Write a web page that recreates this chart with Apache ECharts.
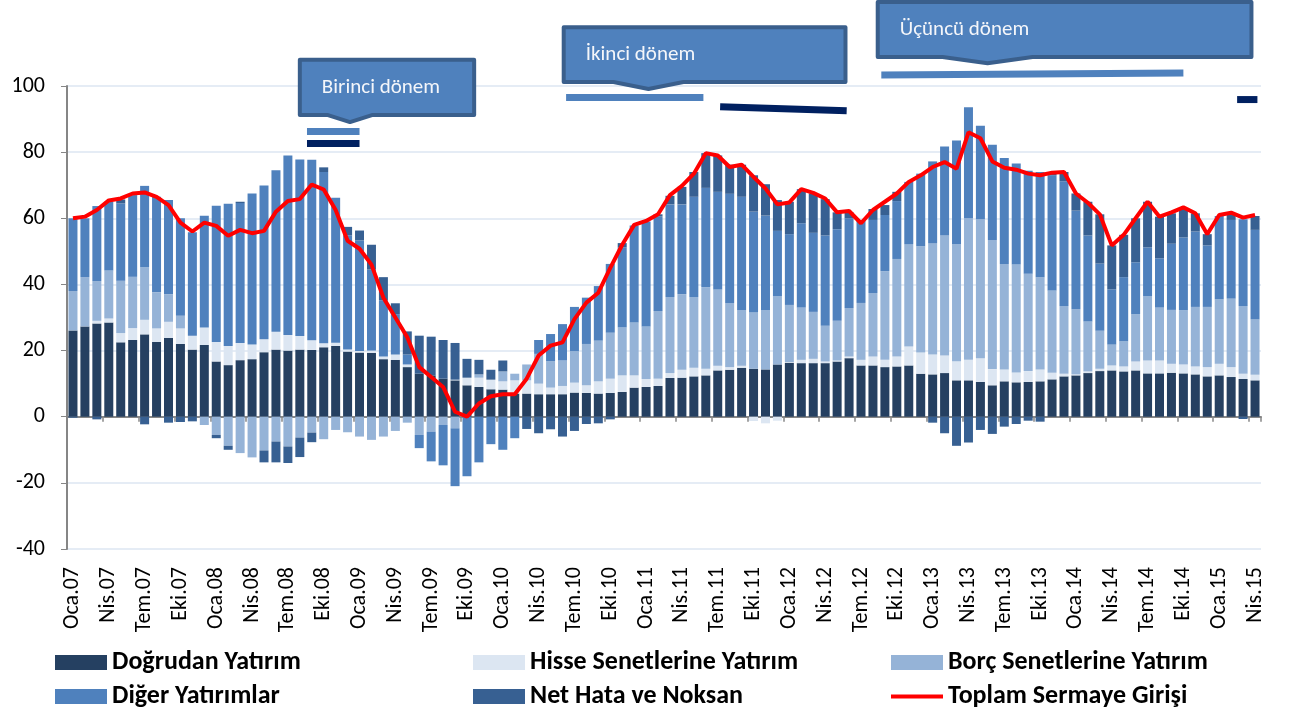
<!DOCTYPE html>
<html><head><meta charset="utf-8">
<script src="https://cdn.jsdelivr.net/npm/echarts@6/dist/echarts.min.js"></script>
<style>html,body{margin:0;padding:0;background:#fff}#c{width:1290px;height:718px}</style>
</head><body><div id="c"></div>
<script>
const months = ['Oca','Şub','Mar','Nis','May','Haz','Tem','Ağu','Eyl','Eki','Kas','Ara'];
const years = ['07','08','09','10','11','12','13','14','15'];
const categories = [];
for (const y of years) for (const m of months) if (categories.length < 100) categories.push(m + '.' + y);

const seriesNames = ['Doğrudan Yatırım','Hisse Senetlerine Yatırım','Borç Senetlerine Yatırım','Diğer Yatırımlar','Net Hata ve Noksan','Toplam Sermaye Girişi'];

const dogrudan = [26.1,27.3,28.2,28.5,22.5,23.2,24.9,22.6,23.8,22.0, 20.3,21.7,16.7,15.6,17.1,17.4,19.5,20.3,20.0,20.3, 20.2,21.0,21.4,19.7,19.4,19.3,17.4,17.2,15.0,13.0, 12.5,11.5,11.0,9.5,9.0,8.3,8.2,7.0,7.0,6.8, 6.8,6.8,7.3,7.2,7.0,7.2,7.5,8.8,9.0,9.3, 11.7,11.8,12.2,12.5,14.0,14.2,14.8,14.5,14.3,15.8, 16.3,16.2,16.2,16.2,16.7,17.7,15.5,15.5,15.0,15.2, 15.5,13.0,12.8,13.2,11.0,11.0,10.5,9.5,10.7,10.4, 10.5,10.7,11.3,12.2,12.5,13.2,13.8,14.0,13.7,14.0, 13.1,13.1,13.3,13.1,12.8,12.2,12.5,12.0,11.4,11.0];
const hisse = [0,0,0.8,1.2,2.8,3.6,4.4,4.1,4.9,4.7, 4.2,5.3,5.9,5.8,5.2,4.4,3.9,5.4,4.7,4.1, 2.9,1.2,1.0,0.6,0.5,0.7,0.8,1.6,0.8,0, 0,0,0.2,2.3,2.8,2.9,2.5,4.0,4.0,3.2, 2.0,2.5,3.0,2.3,3.7,4.3,5.0,3.7,2.4,2.2, 1.5,2.4,2.6,2.0,1.4,0.8,0.6,-1.3,-2.0,-1.2, 0.2,1.0,1.3,0.5,0.3,0.5,1.7,2.7,2.2,3.0, 5.7,6.4,6.0,5.3,5.8,6.2,7.2,4.9,3.6,3.0, 3.3,3.6,2.0,0.8,0.3,0.5,0.7,1.5,1.5,2.7, 3.9,3.9,2.7,2.7,2.4,2.8,3.5,3.0,1.6,1.7];
const borc = [11.9,14.9,12,14.5,15.8,15.5,15.9,10.9,8.3,3.8, 0,-2.5,-5.5,-8.8,-11,-12.3,-10.2,-7.5,-9,-6.3, -4.8,-6.8,-4,-4.7,-6,-7,-6,-4.3,-1.8,-5.5, -4.5,-2.5,-3.5,0,1.0,0,3.0,2.0,4.8,9.0, 8.0,7.7,9.5,12.5,12.3,13.9,14.5,16.0,15.9,20.5, 23.0,22.8,21.4,24.7,23.1,19.4,16.9,17.0,17.9,20.7, 17.3,15.8,14.2,10.8,12.0,14.7,17.2,19.2,26.8,29.5, 31.0,32.1,33.7,36.3,35.4,42.8,42.0,39.0,31.9,32.6, 29.4,27.9,24.9,20.5,19.7,15.1,11.5,6.3,7.6,14.3, 19.5,16.0,16.3,16.4,18.0,18.2,19.5,20.7,20.5,16.8];
const diger = [22,17.8,22.7,20.8,23.4,24.7,24.6,28.9,28.5,29.5, 31.3,33.8,41.2,43,42.3,45.7,46.5,48.8,54.3,53.4, 54.6,51.8,43.8,34.5,33.4,24.5,17.0,12.2,3.0,-4, -9,-12.2,-17.5,-18,-13.8,-8.3,-10,-6.5,0,4.2, 8.2,11,13.4,14,16.5,20.8,24.2,29.3,31.7,28.5, 28,27.2,30.3,30,29.5,33,34.2,30.5,28.6,19.7, 21.4,25.5,23.9,27.3,27.7,27.1,25.1,22.1,17,17.5, 18.8,22,24.7,26.9,31.3,33.6,28.3,28.8,32,30.6, 31.2,31.8,34.8,37.7,29.8,26,20.3,16.7,19.4,15.7, 14.7,14.9,20,22,22.8,18.6,25.2,23.8,26.2,27];
const netHata = [-0.3,0,-0.8,0,1.2,0.3,-2.3,0,-1.8,-1.6, -1.4,0,-1.0,-1.2,0.4,0,-3.6,-6.3,-5,-5.9, -2.9,1.4,0,2.6,3,7.5,7,3.3,7,11.5, 11.7,11.7,11.1,5.7,4.4,3.0,3.3,0,-3.7,-5, -3.8,-6,-4.3,-2.2,-2,-0.8,1.3,0,0,0.7, 2.6,5.3,7.5,10.5,11,8.8,9.7,11,9.5,9.3, 9.8,10.3,11.9,11,5.1,1.8,0,3.3,3,2.8, 0,0,-1.8,-5,-8.8,-7.8,-4,-5.2,-3,-2.2, -1.2,-1.5,0.8,2.8,5.2,10.2,14.9,13.3,12.8,13.3, 13.8,12.6,9.2,8.8,5.5,3.4,0,2,-0.7,4.2];
const toplam = [60.0,60.5,62.5,65.4,66,67.5,67.8,66.5,64,58.7, 56,58.7,57.7,54.7,56.5,55.5,56.2,62,65.2,65.8, 70.2,68.7,62.5,53.2,50.8,46,36,30,24,15, 12,9,1.5,0,4,6.2,6.8,6.8,11.5,18.5, 21.5,22.5,29.5,34.5,37.5,45,52,58,59.2,61.2, 67,69.8,73.5,79.7,79,75.5,76.2,72.5,69,64.2, 64.8,68.8,67.7,66,61.8,62.2,58.5,62.5,65,67.5, 71,73,75.5,77,75,86,84.2,77.2,75.3,74.7, 73.5,73,73.8,74,67.5,64.7,61.2,51.8,55,60, 65,60.5,61.8,63.3,61.5,55.2,61,61.7,60.2,61];

// period annotations in data space (category index, value)
const periodLabels = ['Birinci dönem','İkinci dönem','Üçüncü dönem'];
const periodBoxes = [
  {x0:19.0, x1:33.6, yTop:107.9, yBot:91.2, tipX:23.2, tipY:89.1},
  {x0:41.1, x1:64.7, yTop:117.8, yBot:101.2, tipX:48.2, tipY:99.1},
  {x0:67.4, x1:98.7, yTop:125.4, yBot:108.8, tipX:76.6, tipY:106.9}
];
const periodBars = [
  {x0:19.6, x1:24.0, y0:86.25, y1:86.25, kind:'light'},
  {x0:19.6, x1:24.0, y0:82.6, y1:82.6, kind:'dark'},
  {x0:41.3, x1:52.8, y0:96.5, y1:96.5, kind:'light'},
  {x0:54.2, x1:64.8, y0:93.7, y1:92.5, kind:'dark'},
  {x0:67.7, x1:93.0, y0:103.3, y1:103.9, kind:'light'},
  {x0:97.5, x1:99.2, y0:95.9, y1:95.9, kind:'dark'}
];

const FONT = 'Carlito, Lato, sans-serif';
const colors = ['#254061','#dce6f2','#95b3d7','#4f81bd','#376092','#ff0000'];

const chart = echarts.init(document.getElementById('c'), null, {renderer:'canvas'});

const barData = [dogrudan, hisse, borc, diger, netHata];
const series = barData.map((d, i) => ({
  name: seriesNames[i], type:'bar', stack:'total', data:d, barWidth:9,
  xAxisIndex:0, yAxisIndex:0,
  itemStyle:{color:colors[i]}
}));
series.push({
  name: seriesNames[5], type:'line', data:toplam, symbol:'none', z:10,
  xAxisIndex:0, yAxisIndex:0,
  lineStyle:{color:colors[5], width:4}, itemStyle:{color:colors[5]}
});

const legendPos = [[55,649.5],[473,649.5],[891,649.5],[55,683.5],[473,683.5],[891,683.5]];
const legends = seriesNames.map((n, i) => ({
  data:[n], left:legendPos[i][0], top:legendPos[i][1],
  padding:0, icon:'rect', itemWidth:52, itemHeight: i===5 ? 4 : 15,
  selectedMode:false,
  textStyle:{fontSize:26, lineHeight:26, fontWeight:'bold', color:'#000', fontFamily:FONT}
}));

const option = {
  animation:false,
  backgroundColor:'#fff',
  textStyle:{fontFamily:FONT},
  grid:{left:67, top:86, width:1194, height:463, containLabel:false},
  legend: legends,
  xAxis:[
    {type:'category', data:categories, boundaryGap:true, position:'bottom',
     axisLine:{onZero:true, lineStyle:{color:'#868686', width:2}},
     axisTick:{show:true, interval:2, length:5, lineStyle:{color:'#868686', width:1.5}},
     axisLabel:{show:false}, splitLine:{show:false}},
    {type:'category', data:categories, boundaryGap:true, position:'bottom',
     axisLine:{show:false, onZero:false}, axisTick:{show:false},
     axisLabel:{interval:2, rotate:90, fontSize:22, color:'#000', margin:18, fontFamily:FONT},
     splitLine:{show:false}}
  ],
  yAxis:{type:'value', min:-40, max:100, interval:20,
    axisLine:{show:true, lineStyle:{color:'#868686', width:2}},
    axisTick:{show:true, length:6, lineStyle:{color:'#868686'}},
    axisLabel:{fontSize:22, color:'#000', margin:22, fontFamily:FONT},
    splitLine:{lineStyle:{color:'#dce6f2', width:1.5}}},
  series: series
};
chart.setOption(option);

function px(idx, val){
  const a = chart.convertToPixel({xAxisIndex:0}, 0);
  const b = chart.convertToPixel({xAxisIndex:0}, categories.length - 1);
  const x = a + (b - a) * idx / (categories.length - 1);
  const y = chart.convertToPixel({yAxisIndex:0}, val);
  return [x, y];
}
const tabHalf = [22, 35, 45];
const graphics = [];
periodBoxes.forEach((bx, i) => {
  const [L, T] = px(bx.x0, bx.yTop);
  const [R, B] = px(bx.x1, bx.yBot);
  const [tx, ty] = px(bx.tipX, bx.tipY);
  const h = tabHalf[i];
  graphics.push({type:'polygon', z:100,
    shape:{points:[[L,T],[R,T],[R,B],[tx+h,B],[tx,ty],[tx-h,B],[L,B]]},
    style:{fill:'#4f81bd', stroke:'#3a5f8c', lineWidth:4, lineJoin:'round'}});
  graphics.push({type:'text', z:101, x:L+22, y:(T+B)/2,
    style:{text:periodLabels[i], fill:'#f4f6fa', font:'21px ' + FONT, textVerticalAlign:'middle', verticalAlign:'middle'}});
});
periodBars.forEach(pb => {
  const p0 = px(pb.x0, pb.y0), p1 = px(pb.x1, pb.y1);
  graphics.push({type:'line', z:100, shape:{x1:p0[0], y1:p0[1], x2:p1[0], y2:p1[1]},
    style:{stroke: pb.kind === 'light' ? '#4f81bd' : '#002060', lineWidth:7}});
});
chart.setOption({graphic: graphics});
</script></body></html>
